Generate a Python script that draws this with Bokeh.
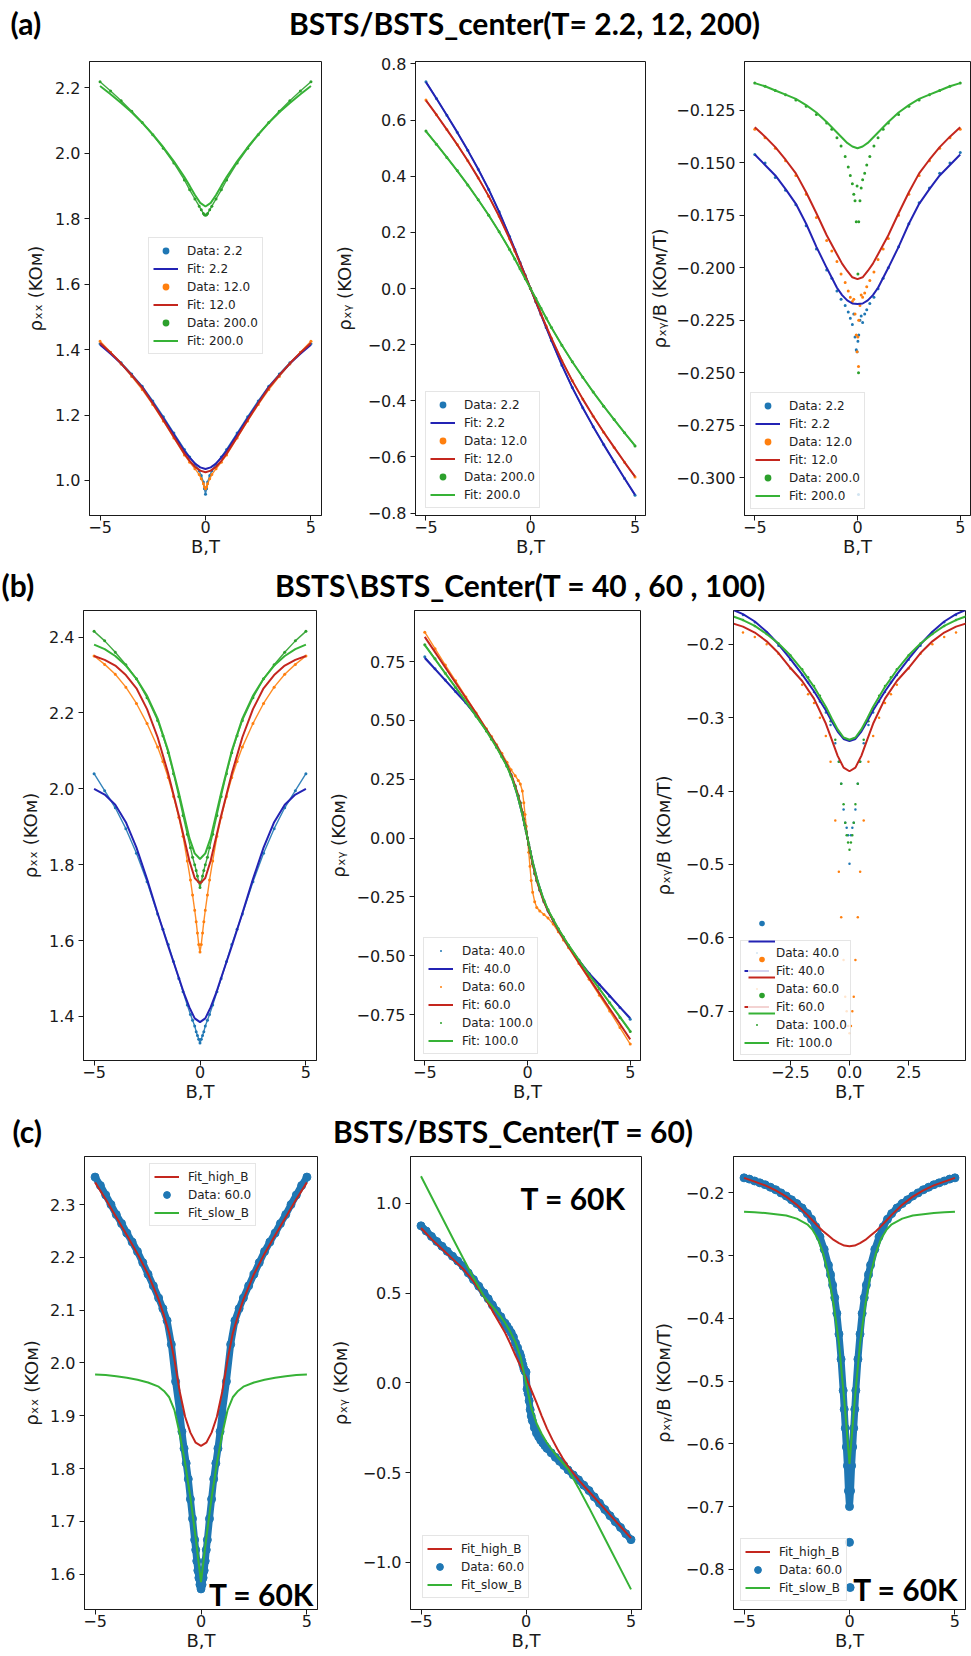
from bokeh.plotting import figure
from bokeh.layouts import column, row
from bokeh.models import FixedTicker, CustomJSTickFormatter, Legend, LegendItem, Range1d
from bokeh.core.properties import value
from bokeh.embed import file_html
from bokeh.resources import INLINE

# ------------------------------------------------------------------ texts
title_a = "BSTS/BSTS_center(T= 2.2, 12, 200)"
title_b = "BSTS\\BSTS_Center(T = 40 , 60 , 100)"
title_c = "BSTS/BSTS_Center(T = 60)"
panel_tags = ["(a)", "(b)", "(c)"]
x_label = "B,T"
label_rxx = "ρₓₓ (KOм)"
label_rxy = "ρₓᵧ (KOм)"
label_rxyB = "ρₓᵧ/B (KOм/T)"
annot_text = "T = 60K"
legend_a = ["Data: 2.2", "Fit: 2.2", "Data: 12.0", "Fit: 12.0", "Data: 200.0", "Fit: 200.0"]
legend_b = ["Data: 40.0", "Fit: 40.0", "Data: 60.0", "Fit: 60.0", "Data: 100.0", "Fit: 100.0"]
legend_c = ["Fit_high_B", "Data: 60.0", "Fit_slow_B"]

# ------------------------------------------------------------------ ticks
x_ticks = [-5, 0, 5]
x_ticks_b3 = [-2.5, 0.0, 2.5]
a1_yticks = [1.0, 1.2, 1.4, 1.6, 1.8, 2.0, 2.2]
a2_yticks = [-0.8, -0.6, -0.4, -0.2, 0.0, 0.2, 0.4, 0.6, 0.8]
a3_yticks = [-0.300, -0.275, -0.250, -0.225, -0.200, -0.175, -0.150, -0.125]
b1_yticks = [1.4, 1.6, 1.8, 2.0, 2.2, 2.4]
b2_yticks = [-0.75, -0.50, -0.25, 0.0, 0.25, 0.50, 0.75]
b3_yticks = [-0.7, -0.6, -0.5, -0.4, -0.3, -0.2]
c1_yticks = [1.6, 1.7, 1.8, 1.9, 2.0, 2.1, 2.2, 2.3]
c2_yticks = [-1.0, -0.5, 0.0, 0.5, 1.0]
c3_yticks = [-0.8, -0.7, -0.6, -0.5, -0.4, -0.3, -0.2]

# ------------------------------------------------------------------ field grids
B_fit = [-5, -4.5, -4, -3.5, -3, -2.5, -2, -1.5, -1, -0.75, -0.5, -0.25, 0,
         0.25, 0.5, 0.75, 1, 1.5, 2, 2.5, 3, 3.5, 4, 4.5, 5]
B_data_a = [-5, -4.5, -4, -3.5, -3, -2.5, -2, -1.5, -1, -0.75, -0.5, -0.3, -0.2, -0.1, -0.05, 0,
            0.05, 0.1, 0.2, 0.3, 0.5, 0.75, 1, 1.5, 2, 2.5, 3, 3.5, 4, 4.5, 5]
B_a3 = [-5, -4.5, -4, -3.5, -3, -2.5, -2, -1.5, -1.25, -1, -0.8, -0.6, -0.45, -0.35, -0.25, -0.18, -0.12, -0.06, -0.02,
        0.02, 0.06, 0.12, 0.18, 0.25, 0.35, 0.45, 0.6, 0.8, 1, 1.25, 1.5, 2, 2.5, 3, 3.5, 4, 4.5, 5]
B_a3_extra = [0.05]
B_data_b = [-5, -4.5, -4, -3.5, -3, -2.5, -2, -1.75, -1.5, -1.25, -1, -0.8, -0.6, -0.45, -0.35, -0.25, -0.18, -0.12, -0.06, 0,
            0.06, 0.12, 0.18, 0.25, 0.35, 0.45, 0.6, 0.8, 1, 1.25, 1.5, 1.75, 2, 2.5, 3, 3.5, 4, 4.5, 5]
B_fit_c = [-5, -4.5, -4, -3.5, -3, -2.5, -2, -1.75, -1.5, -1.25, -1, -0.75, -0.5, -0.25, 0,
           0.25, 0.5, 0.75, 1, 1.25, 1.5, 1.75, 2, 2.5, 3, 3.5, 4, 4.5, 5]
B_c = [-5, -4.75, -4.5, -4.25, -4, -3.75, -3.5, -3.25, -3, -2.75, -2.5, -2.25, -2, -1.8, -1.6, -1.4, -1.2, -1,
       -0.9, -0.8, -0.7, -0.6, -0.5, -0.4, -0.3, -0.25, -0.2, -0.15, -0.1, -0.05, 0,
       0.05, 0.1, 0.15, 0.2, 0.25, 0.3, 0.4, 0.5, 0.6, 0.7, 0.8, 0.9,
       1, 1.2, 1.4, 1.6, 1.8, 2, 2.25, 2.5, 2.75, 3, 3.25, 3.5, 3.75, 4, 4.25, 4.5, 4.75, 5]
B_c3_extra = [0.0, 0.03]

# ------------------------------------------------------------------ row (a): rho_xx
fit_a1_2p2 = [1.415, 1.387, 1.357, 1.322, 1.285, 1.238, 1.19, 1.14, 1.09, 1.07, 1.052, 1.04, 1.035,
              1.04, 1.052, 1.07, 1.09, 1.14, 1.19, 1.238, 1.285, 1.322, 1.357, 1.387, 1.415]
fit_a1_12 = [1.42, 1.39, 1.358, 1.322, 1.283, 1.235, 1.185, 1.133, 1.082, 1.06, 1.042, 1.03, 1.025,
             1.03, 1.042, 1.06, 1.082, 1.133, 1.185, 1.235, 1.283, 1.322, 1.358, 1.39, 1.42]
fit_a1_200 = [2.205, 2.18, 2.153, 2.125, 2.093, 2.057, 2.018, 1.975, 1.927, 1.9, 1.872, 1.848, 1.837,
              1.848, 1.872, 1.9, 1.927, 1.975, 2.018, 2.057, 2.093, 2.125, 2.153, 2.18, 2.205]
rho_a1_2p2 = [1.418, 1.39, 1.36, 1.325, 1.288, 1.243, 1.195, 1.145, 1.095, 1.072, 1.05, 1.03, 1.015, 0.995, 0.975, 0.958,
              0.975, 0.995, 1.015, 1.03, 1.05, 1.072, 1.095, 1.145, 1.195, 1.243, 1.288, 1.325, 1.36, 1.39, 1.418]
rho_a1_12 = [1.425, 1.392, 1.356, 1.318, 1.278, 1.232, 1.182, 1.13, 1.078, 1.056, 1.036, 1.018, 1.005, 0.99, 0.98, 0.975,
             0.98, 0.99, 1.005, 1.018, 1.036, 1.056, 1.078, 1.13, 1.182, 1.232, 1.278, 1.318, 1.356, 1.392, 1.425]
rho_a1_200 = [2.218, 2.19, 2.16, 2.128, 2.094, 2.056, 2.015, 1.97, 1.918, 1.888, 1.86, 1.838, 1.827, 1.816, 1.812, 1.81,
              1.812, 1.816, 1.827, 1.838, 1.86, 1.888, 1.918, 1.97, 2.015, 2.056, 2.094, 2.128, 2.16, 2.19, 2.218]

# row (a): rho_xy
fit_a2_2p2 = [0.735, 0.677, 0.617, 0.556, 0.492, 0.425, 0.353, 0.273, 0.185, 0.139, 0.093, 0.047, 0.0,
              -0.047, -0.093, -0.139, -0.185, -0.273, -0.353, -0.425, -0.492, -0.556, -0.617, -0.677, -0.735]
fit_a2_12 = [0.67, 0.619, 0.566, 0.512, 0.455, 0.394, 0.329, 0.257, 0.177, 0.134, 0.09, 0.045, 0.0,
             -0.045, -0.09, -0.134, -0.177, -0.257, -0.329, -0.394, -0.455, -0.512, -0.566, -0.619, -0.67]
fit_a2_200 = [0.56, 0.514, 0.467, 0.419, 0.369, 0.316, 0.261, 0.202, 0.139, 0.105, 0.07, 0.035, 0.0,
              -0.035, -0.07, -0.105, -0.139, -0.202, -0.261, -0.316, -0.369, -0.419, -0.467, -0.514, -0.56]
rho_a2_2p2 = [0.736, 0.677, 0.617, 0.556, 0.492, 0.425, 0.353, 0.273, 0.185, 0.139, 0.093, 0.047, 0.0,
              -0.047, -0.093, -0.139, -0.185, -0.273, -0.353, -0.425, -0.492, -0.556, -0.617, -0.677, -0.736]
rho_a2_12 = [0.671, 0.619, 0.566, 0.512, 0.455, 0.394, 0.329, 0.257, 0.177, 0.134, 0.09, 0.045, 0.0,
             -0.045, -0.09, -0.134, -0.177, -0.257, -0.329, -0.394, -0.455, -0.512, -0.566, -0.619, -0.671]
rho_a2_200 = [0.561, 0.514, 0.467, 0.419, 0.369, 0.316, 0.261, 0.202, 0.139, 0.105, 0.07, 0.035, 0.0,
              -0.035, -0.07, -0.105, -0.139, -0.202, -0.261, -0.316, -0.369, -0.419, -0.467, -0.514, -0.561]

# row (a): rho_xy / B
fit_a3_2p2 = [-0.146, -0.151, -0.156, -0.1625, -0.1695, -0.179, -0.19, -0.2, -0.2095, -0.213, -0.2155, -0.217, -0.2172,
              -0.217, -0.2155, -0.213, -0.2095, -0.2, -0.19, -0.179, -0.1695, -0.1625, -0.156, -0.151, -0.146]
fit_a3_12 = [-0.133, -0.1375, -0.1425, -0.1485, -0.155, -0.164, -0.174, -0.1845, -0.1935, -0.198, -0.2015, -0.2045, -0.2054,
             -0.2045, -0.2015, -0.198, -0.1935, -0.1845, -0.174, -0.164, -0.155, -0.1485, -0.1425, -0.1375, -0.133]
fit_a3_200 = [-0.112, -0.1135, -0.1155, -0.1175, -0.1195, -0.1225, -0.126, -0.1305, -0.1355, -0.138, -0.1405, -0.1422, -0.143,
              -0.1422, -0.1405, -0.138, -0.1355, -0.1305, -0.126, -0.1225, -0.1195, -0.1175, -0.1155, -0.1135, -0.112]
rho_a3_2p2 = [-0.146, -0.150, -0.157, -0.163, -0.170, -0.180, -0.191, -0.201, -0.205, -0.211, -0.215, -0.218, -0.221,
              -0.224, -0.227, -0.222, -0.233, -0.239, -0.240,
              -0.235, -0.232, -0.225, -0.223, -0.226, -0.222, -0.220, -0.217, -0.214, -0.210, -0.205, -0.200,
              -0.190, -0.179, -0.169, -0.162, -0.155, -0.150, -0.145]
rho_a3_12 = [-0.134, -0.138, -0.143, -0.149, -0.156, -0.165, -0.176, -0.187, -0.192, -0.197, -0.203, -0.207, -0.211,
             -0.214, -0.216, -0.215, -0.222, -0.232, -0.240,
             -0.233, -0.225, -0.218, -0.213, -0.214, -0.212, -0.209, -0.206, -0.202, -0.196, -0.191, -0.186,
             -0.175, -0.165, -0.156, -0.149, -0.143, -0.138, -0.134]
rho_a3_200 = [-0.112, -0.1135, -0.1155, -0.1175, -0.120, -0.123, -0.127, -0.131, -0.134, -0.138, -0.142, -0.147, -0.152,
              -0.156, -0.160, -0.165, -0.168, -0.178, -0.161,
              -0.203, -0.178, -0.168, -0.162, -0.158, -0.155, -0.151, -0.147, -0.142, -0.138, -0.134, -0.131,
              -0.127, -0.123, -0.120, -0.1175, -0.1155, -0.1135, -0.112]
rho_a3_extra_2p2 = [-0.308]
rho_a3_extra_12 = [-0.247]
rho_a3_extra_200 = [-0.250]

# ------------------------------------------------------------------ row (b): rho_xx
fit_b1_40 = [2.0, 1.985, 1.958, 1.912, 1.845, 1.762, 1.672, 1.585, 1.502, 1.46, 1.424, 1.395, 1.385,
             1.395, 1.424, 1.46, 1.502, 1.585, 1.672, 1.762, 1.845, 1.912, 1.958, 1.985, 2.0]
fit_b1_60 = [2.35, 2.34, 2.325, 2.30, 2.265, 2.21, 2.136, 2.04, 1.93, 1.87, 1.81, 1.765, 1.75,
             1.765, 1.81, 1.87, 1.93, 2.04, 2.136, 2.21, 2.265, 2.30, 2.325, 2.34, 2.35]
fit_b1_100 = [2.38, 2.368, 2.35, 2.325, 2.29, 2.245, 2.185, 2.10, 1.99, 1.93, 1.87, 1.83, 1.815,
              1.83, 1.87, 1.93, 1.99, 2.10, 2.185, 2.245, 2.29, 2.325, 2.35, 2.368, 2.38]
rho_b1_40 = [2.04, 1.995, 1.95, 1.895, 1.83, 1.755, 1.67, 1.63, 1.59, 1.545, 1.50, 1.465, 1.43, 1.405, 1.39, 1.375,
             1.36, 1.35, 1.34, 1.33,
             1.34, 1.35, 1.36, 1.375, 1.39, 1.405, 1.43, 1.465, 1.50, 1.545, 1.59, 1.63, 1.67, 1.755, 1.83,
             1.895, 1.95, 1.995, 2.04]
rho_b1_60 = [2.35, 2.328, 2.302, 2.268, 2.225, 2.172, 2.11, 2.072, 2.03, 1.98, 1.925, 1.875, 1.81, 1.76, 1.72, 1.68,
             1.65, 1.62, 1.59, 1.57,
             1.59, 1.62, 1.65, 1.68, 1.72, 1.76, 1.81, 1.875, 1.925, 1.98, 2.03, 2.072, 2.11, 2.172, 2.225,
             2.268, 2.302, 2.328, 2.35]
rho_b1_100 = [2.415, 2.39, 2.36, 2.327, 2.29, 2.24, 2.18, 2.14, 2.095, 2.04, 1.98, 1.93, 1.88, 1.845, 1.82, 1.80,
              1.785, 1.77, 1.755, 1.74,
              1.755, 1.77, 1.785, 1.80, 1.82, 1.845, 1.88, 1.93, 1.98, 2.04, 2.095, 2.14, 2.18, 2.24, 2.29,
              2.327, 2.36, 2.39, 2.415]

# row (b): rho_xy
fit_b2_40 = [0.765, 0.718, 0.67, 0.622, 0.575, 0.52, 0.46, 0.39, 0.31, 0.255, 0.185, 0.1, 0.0,
             -0.1, -0.185, -0.255, -0.31, -0.39, -0.46, -0.52, -0.575, -0.622, -0.67, -0.718, -0.765]
fit_b2_60 = [0.855, 0.79, 0.725, 0.66, 0.595, 0.53, 0.46, 0.39, 0.31, 0.26, 0.195, 0.11, 0.0,
             -0.11, -0.195, -0.26, -0.31, -0.39, -0.46, -0.53, -0.595, -0.66, -0.725, -0.79, -0.855]
fit_b2_100 = [0.82, 0.76, 0.70, 0.64, 0.58, 0.518, 0.455, 0.385, 0.305, 0.252, 0.185, 0.1, 0.0,
              -0.1, -0.185, -0.252, -0.305, -0.385, -0.455, -0.518, -0.58, -0.64, -0.70, -0.76, -0.82]
rho_b2_40 = [0.77, 0.72, 0.672, 0.623, 0.575, 0.52, 0.46, 0.425, 0.39, 0.352, 0.31, 0.27, 0.222, 0.18, 0.15, 0.11,
             0.08, 0.055, 0.028, 0.0,
             -0.028, -0.055, -0.08, -0.11, -0.15, -0.18, -0.222, -0.27, -0.31, -0.352, -0.39, -0.425, -0.46,
             -0.52, -0.575, -0.623, -0.672, -0.72, -0.77]
rho_b2_60 = [0.875, 0.805, 0.735, 0.668, 0.60, 0.532, 0.465, 0.432, 0.397, 0.36, 0.322, 0.29, 0.265, 0.245, 0.23,
             0.20, 0.15, 0.10, 0.05, 0.0,
             -0.06, -0.12, -0.18, -0.23, -0.27, -0.295, -0.31, -0.325, -0.34, -0.365, -0.398, -0.433, -0.466,
             -0.533, -0.60, -0.668, -0.735, -0.805, -0.875]
rho_b2_100 = [0.822, 0.762, 0.70, 0.64, 0.58, 0.518, 0.455, 0.42, 0.385, 0.346, 0.305, 0.265, 0.22, 0.18, 0.15,
              0.11, 0.08, 0.055, 0.028, 0.0,
              -0.028, -0.055, -0.08, -0.11, -0.15, -0.18, -0.22, -0.265, -0.305, -0.346, -0.385, -0.42, -0.455,
              -0.518, -0.58, -0.64, -0.70, -0.762, -0.822]

# row (b): rho_xy / B
fit_b3_40 = [-0.152, -0.159, -0.169, -0.183, -0.2, -0.22, -0.241, -0.264, -0.29, -0.305, -0.319, -0.329, -0.332,
             -0.329, -0.319, -0.305, -0.29, -0.264, -0.241, -0.22, -0.2, -0.183, -0.169, -0.159, -0.152]
fit_b3_60 = [-0.171, -0.176, -0.184, -0.196, -0.212, -0.232, -0.25, -0.274, -0.308, -0.33, -0.352, -0.368, -0.373,
             -0.368, -0.352, -0.33, -0.308, -0.274, -0.25, -0.232, -0.212, -0.196, -0.184, -0.176, -0.171]
fit_b3_100 = [-0.161, -0.167, -0.175, -0.186, -0.199, -0.215, -0.235, -0.258, -0.285, -0.301, -0.316, -0.327, -0.33,
              -0.327, -0.316, -0.301, -0.285, -0.258, -0.235, -0.215, -0.199, -0.186, -0.175, -0.167, -0.161]
rho_b3_40 = [-0.152, -0.16, -0.17, -0.184, -0.202, -0.221, -0.242, -0.252, -0.265, -0.278, -0.293, -0.31, -0.335,
             -0.36, -0.39, -0.425, -0.443, -0.45, -0.46, -0.499,
             -0.46, -0.45, -0.443, -0.425, -0.39, -0.36, -0.335, -0.31, -0.293, -0.278, -0.265, -0.252, -0.242,
             -0.221, -0.202, -0.184, -0.17, -0.16, -0.152]
rho_b3_60 = [-0.178, -0.184, -0.19, -0.2, -0.213, -0.233, -0.255, -0.268, -0.28, -0.3, -0.325, -0.36, -0.44,
             -0.51, -0.572, -0.63, -0.68, -0.70, -0.72, -0.73,
             -0.72, -0.70, -0.68, -0.63, -0.572, -0.51, -0.44, -0.36, -0.325, -0.3, -0.28, -0.268, -0.255,
             -0.233, -0.213, -0.2, -0.19, -0.184, -0.178]
rho_b3_100 = [-0.161, -0.167, -0.175, -0.186, -0.199, -0.215, -0.234, -0.245, -0.257, -0.27, -0.287, -0.305, -0.33,
              -0.36, -0.39, -0.418, -0.443, -0.46, -0.47, -0.48,
              -0.47, -0.46, -0.443, -0.418, -0.39, -0.36, -0.33, -0.305, -0.287, -0.27, -0.257, -0.245, -0.234,
              -0.215, -0.199, -0.186, -0.175, -0.167, -0.161]

# ------------------------------------------------------------------ row (c), T = 60 K
fit_c1_high = [2.342, 2.31, 2.276, 2.242, 2.207, 2.168, 2.12, 2.09, 2.056, 2.005, 1.945, 1.898, 1.868, 1.849, 1.843,
               1.849, 1.868, 1.898, 1.945, 2.005, 2.056, 2.09, 2.12, 2.168, 2.207, 2.242, 2.276, 2.31, 2.342]
fit_c1_slow = [1.978, 1.977, 1.975, 1.972, 1.968, 1.963, 1.955, 1.947, 1.935, 1.91, 1.865, 1.81, 1.745, 1.668, 1.585,
               1.668, 1.745, 1.81, 1.865, 1.91, 1.935, 1.947, 1.955, 1.963, 1.968, 1.972, 1.975, 1.977, 1.978]
rho_c1 = [2.352, 2.336, 2.318, 2.30, 2.281, 2.264, 2.246, 2.229, 2.211, 2.19, 2.168, 2.146, 2.123, 2.103, 2.08,
          2.035, 1.965, 1.905, 1.87, 1.838, 1.81, 1.78, 1.742, 1.705, 1.665, 1.646, 1.625, 1.607, 1.593, 1.58,
          1.572,
          1.58, 1.593, 1.607, 1.625, 1.646, 1.665, 1.705, 1.742, 1.78, 1.81, 1.838, 1.87, 1.905, 1.965, 2.035,
          2.08, 2.103, 2.123, 2.146, 2.168, 2.19, 2.211, 2.229, 2.246, 2.264, 2.281, 2.30, 2.318, 2.336, 2.352]

fit_c2_high = [0.862, 0.80, 0.745, 0.69, 0.635, 0.565, 0.48, 0.432, 0.38, 0.33, 0.28, 0.218, 0.152, 0.09, 0.03,
               -0.04, -0.11, -0.185, -0.255, -0.315, -0.37, -0.42, -0.465, -0.54, -0.605, -0.67, -0.735, -0.80, -0.865]
fit_c2_slow = [1.15, 1.036, 0.922, 0.808, 0.695, 0.585, 0.48, 0.445, 0.412, 0.375, 0.335, 0.285, 0.225, 0.14, 0.0,
               -0.14, -0.225, -0.285, -0.335, -0.375, -0.412, -0.445, -0.48, -0.585, -0.695, -0.808, -0.922, -1.036, -1.15]
rho_c2 = [0.874, 0.845, 0.815, 0.787, 0.76, 0.732, 0.705, 0.678, 0.65, 0.612, 0.575, 0.538, 0.50, 0.468, 0.433,
          0.40, 0.368, 0.332, 0.315, 0.297, 0.278, 0.255, 0.222, 0.195, 0.165, 0.147, 0.123, 0.10, 0.078, 0.065,
          0.06,
          -0.035, -0.06, -0.10, -0.15, -0.185, -0.21, -0.25, -0.28, -0.30, -0.32, -0.335, -0.35, -0.365, -0.39,
          -0.415, -0.437, -0.46, -0.485, -0.513, -0.54, -0.57, -0.60, -0.635, -0.67, -0.705, -0.74, -0.773,
          -0.805, -0.84, -0.873]

fit_c3_high = [-0.176, -0.182, -0.188, -0.196, -0.206, -0.219, -0.235, -0.244, -0.253, -0.261, -0.268, -0.275, -0.28,
               -0.284, -0.285, -0.284, -0.28, -0.275, -0.268, -0.261, -0.253, -0.244, -0.235, -0.219, -0.206,
               -0.196, -0.188, -0.182, -0.176]
fit_c3_slow = [-0.23, -0.231, -0.232, -0.234, -0.236, -0.241, -0.25, -0.259, -0.273, -0.296, -0.33, -0.378, -0.44,
               -0.53, -0.632, -0.53, -0.44, -0.378, -0.33, -0.296, -0.273, -0.259, -0.25, -0.241, -0.236, -0.234,
               -0.232, -0.231, -0.23]
rho_c3 = [-0.176, -0.178, -0.181, -0.184, -0.187, -0.191, -0.195, -0.2, -0.205, -0.211, -0.217, -0.224, -0.233,
          -0.242, -0.254, -0.27, -0.29, -0.315, -0.33, -0.347, -0.367, -0.392, -0.425, -0.465, -0.515, -0.545,
          -0.575, -0.605, -0.635, -0.675,
          -0.70,
          -0.675, -0.635, -0.605, -0.575, -0.545, -0.515, -0.465, -0.425, -0.392, -0.367, -0.347, -0.33, -0.315,
          -0.29, -0.27, -0.254, -0.242, -0.233, -0.224, -0.217, -0.211, -0.205, -0.2, -0.195, -0.191, -0.187,
          -0.184, -0.181, -0.178, -0.176]
rho_c3_extra = [-0.757, -0.829]

# ------------------------------------------------------------------ styles
D_BLUE, D_ORANGE, D_GREEN = "#1f77b4", "#ff7f0e", "#2ca02c"
F_BLUE, F_RED, F_GREEN = "#2323b4", "#c4261e", "#36b236"
FRAME = "#1a1a1a"


def fmt(dec):
    return CustomJSTickFormatter(code="return tick.toFixed(%d).replace('-', '\u2212');" % dec)


def panel(width, height, borders, xr, yr, xticks, yticks, xdec, ydec, ylabel, ystd):
    left, right, top, bottom = borders
    p = figure(width=width, height=height, x_range=Range1d(*xr), y_range=Range1d(*yr),
               output_backend="svg", toolbar_location=None,
               min_border_left=left, min_border_right=right,
               min_border_top=top, min_border_bottom=bottom,
               background_fill_color="white", border_fill_color="white")
    p.xgrid.visible = False
    p.ygrid.visible = False
    p.outline_line_color = FRAME
    p.outline_line_width = 1
    p.outline_line_alpha = 1
    p.xaxis.ticker = FixedTicker(ticks=xticks)
    p.yaxis.ticker = FixedTicker(ticks=yticks)
    p.xaxis.formatter = fmt(xdec)
    p.yaxis.formatter = fmt(ydec)
    p.xaxis.axis_label = x_label
    p.yaxis.axis_label = ylabel
    for ax in p.axis:
        ax.axis_line_color = FRAME
        ax.major_tick_line_color = FRAME
        ax.major_tick_out = 5
        ax.major_tick_in = 0
        ax.minor_tick_out = 0
        ax.minor_tick_in = 0
        ax.major_label_text_font = "DejaVu Sans"
        ax.major_label_text_font_size = "16px"
        ax.major_label_text_color = "#1a1a1a"
        ax.axis_label_text_font = "DejaVu Sans"
        ax.axis_label_text_font_size = "18px"
        ax.axis_label_text_font_style = "normal"
        ax.axis_label_text_color = "#1a1a1a"
    p.xaxis.major_label_standoff = 0
    p.xaxis.axis_label_standoff = 0
    p.yaxis.major_label_standoff = 4
    p.yaxis.axis_label_standoff = ystd
    return p


def add_legend(p, labels, renderers, loc, gh=17, lh=17, sp=1, pad=4, standoff=9, gw=25,
               border="#cccccc", bg_alpha=0.8, label_width=20):
    items = [LegendItem(label=l, renderers=[r]) for l, r in zip(labels, renderers)]
    lg = Legend(items=items, location=loc, orientation="vertical", margin=0,
                glyph_width=gw, glyph_height=gh, label_height=lh, label_width=label_width,
                spacing=sp, padding=pad, label_standoff=standoff,
                label_text_font="DejaVu Sans", label_text_font_size="12px", label_text_color="#222222",
                border_line_color=border, border_line_width=1,
                background_fill_color="white", background_fill_alpha=bg_alpha)
    p.add_layout(lg)
    return lg


def title_fig(h, tag, tag_x, title, title_x, yc):
    p = figure(width=971, height=h, x_range=Range1d(0, 971), y_range=Range1d(h, 0),
               output_backend="svg", toolbar_location=None, x_axis_type=None, y_axis_type=None,
               min_border_left=0, min_border_right=0, min_border_top=0, min_border_bottom=0,
               background_fill_color="white", border_fill_color="white")
    p.grid.visible = False
    p.outline_line_color = None
    p.text(x=[tag_x], y=[yc], text=[tag], text_font=value("Lato"), text_font_style="bold",
           text_font_size="30px", text_align="left", text_baseline="middle", text_color="black")
    p.text(x=[title_x], y=[yc], text=[title], text_font=value("Lato"), text_font_style="bold",
           text_font_size="30px", text_align="center", text_baseline="middle", text_color="black")
    return p


def data_curve(p, x, y, color):
    p.line(x, y, line_color=color, line_width=1.4, line_alpha=0.9)
    return p.scatter(x, y, size=3, fill_color=color, line_color=None)


XR = (-5.5, 5.5)

# ---------------------------------------------------------------- row (a)
a1 = panel(330, 512, (89, 9, 11, 47), XR, (0.893, 2.28), x_ticks, a1_yticks, 0, 1, label_rxx, 6)
d1 = data_curve(a1, B_data_a, rho_a1_2p2, D_BLUE)
d2 = data_curve(a1, B_data_a, rho_a1_12, D_ORANGE)
d3 = data_curve(a1, B_data_a, rho_a1_200, D_GREEN)
f1 = a1.line(B_fit, fit_a1_2p2, line_color=F_BLUE, line_width=2)
f2 = a1.line(B_fit, fit_a1_12, line_color=F_RED, line_width=2)
f3 = a1.line(B_fit, fit_a1_200, line_color=F_GREEN, line_width=2)
add_legend(a1, legend_a, [d1, f1, d2, f2, d3, f3], (59, 161))

a2 = panel(316, 512, (84, 1, 11, 47), XR, (-0.8085, 0.8085), x_ticks, a2_yticks, 0, 1, label_rxy, 10)
d1 = data_curve(a2, B_fit, rho_a2_2p2, D_BLUE)
d2 = data_curve(a2, B_fit, rho_a2_12, D_ORANGE)
d3 = data_curve(a2, B_fit, rho_a2_200, D_GREEN)
f1 = a2.line(B_fit, fit_a2_2p2, line_color=F_BLUE, line_width=2)
f2 = a2.line(B_fit, fit_a2_12, line_color=F_RED, line_width=2)
f3 = a2.line(B_fit, fit_a2_200, line_color=F_GREEN, line_width=2)
add_legend(a2, legend_a, [d1, f1, d2, f2, d3, f3], (10, 7))

a3 = panel(325, 512, (92, 1, 11, 47), XR, (-0.318, -0.1017), x_ticks, a3_yticks, 0, 3, label_rxyB, 3)
d1 = a3.scatter(B_a3, rho_a3_2p2, size=3, fill_color=D_BLUE, line_color=None)
d2 = a3.scatter(B_a3, rho_a3_12, size=3, fill_color=D_ORANGE, line_color=None)
d3 = a3.scatter(B_a3, rho_a3_200, size=3, fill_color=D_GREEN, line_color=None)
a3.scatter(B_a3_extra, rho_a3_extra_2p2, size=3, fill_color=D_BLUE, line_color=None)
a3.scatter(B_a3_extra, rho_a3_extra_12, size=3, fill_color=D_ORANGE, line_color=None)
a3.scatter(B_a3_extra, rho_a3_extra_200, size=3, fill_color=D_GREEN, line_color=None)
f1 = a3.line(B_fit, fit_a3_2p2, line_color=F_BLUE, line_width=2)
f2 = a3.line(B_fit, fit_a3_12, line_color=F_RED, line_width=2)
f3 = a3.line(B_fit, fit_a3_200, line_color=F_GREEN, line_width=2)
add_legend(a3, legend_a, [d1, f1, d2, f2, d3, f3], (6, 6))

# ---------------------------------------------------------------- row (b)
b1 = panel(325, 507, (83, 9, 7, 50), XR, (1.284, 2.47), x_ticks, b1_yticks, 0, 1, label_rxx, 5)
data_curve(b1, B_data_b, rho_b1_40, D_BLUE)
data_curve(b1, B_data_b, rho_b1_60, D_ORANGE)
data_curve(b1, B_data_b, rho_b1_100, D_GREEN)
b1.line(B_fit, fit_b1_40, line_color=F_BLUE, line_width=2)
b1.line(B_fit, fit_b1_60, line_color=F_RED, line_width=2)
b1.line(B_fit, fit_b1_100, line_color=F_GREEN, line_width=2)

b2 = panel(320, 507, (83, 5, 7, 50), XR, (-0.945, 0.967), x_ticks, b2_yticks, 0, 2, label_rxy, 4)
d1 = data_curve(b2, B_data_b, rho_b2_40, D_BLUE)
d2 = data_curve(b2, B_data_b, rho_b2_60, D_ORANGE)
d3 = data_curve(b2, B_data_b, rho_b2_100, D_GREEN)
f1 = b2.line(B_fit, fit_b2_40, line_color=F_BLUE, line_width=2)
f2 = b2.line(B_fit, fit_b2_60, line_color=F_RED, line_width=2)
f3 = b2.line(B_fit, fit_b2_100, line_color=F_GREEN, line_width=2)
add_legend(b2, legend_b, [d1, f1, d2, f2, d3, f3], (9, 6), gh=5)

b3 = panel(326, 507, (88, 6, 7, 50), (-4.9, 4.9), (-0.767, -0.154), x_ticks_b3, b3_yticks, 1, 1, label_rxyB, 9)
d1 = b3.scatter(B_data_b, rho_b3_40, size=2.5, fill_color=D_BLUE, line_color=None)
d2 = b3.scatter(B_data_b, rho_b3_60, size=2.5, fill_color=D_ORANGE, line_color=None)
d3 = b3.scatter(B_data_b, rho_b3_100, size=2.5, fill_color=D_GREEN, line_color=None)
f1 = b3.line(B_fit, fit_b3_40, line_color=F_BLUE, line_width=2)
f2 = b3.line(B_fit, fit_b3_60, line_color=F_RED, line_width=2)
f3 = b3.line(B_fit, fit_b3_100, line_color=F_GREEN, line_width=2)
add_legend(b3, legend_b, [d1, f1, d2, f2, d3, f3], (7, 5), gh=5, pad=3, standoff=7)
add_legend(b3, [" "] * 6, [d1, f1, d2, f2, d3, f3], (15, 40), gh=14, lh=14, sp=4, pad=2,
           standoff=0, gw=27, border=None, label_width=0)

# ---------------------------------------------------------------- row (c)
c1 = panel(326, 508, (84, 9, 8, 47), XR, (1.533, 2.391), x_ticks, c1_yticks, 0, 1, label_rxx, 5)
c1.line(B_c, rho_c1, line_color=D_BLUE, line_width=7)
dc = c1.scatter(B_c, rho_c1, size=8, fill_color=D_BLUE, line_color=D_BLUE)
fh = c1.line(B_fit_c, fit_c1_high, line_color=F_RED, line_width=2)
fs = c1.line(B_fit_c, fit_c1_slow, line_color=F_GREEN, line_width=2)
add_legend(c1, legend_c, [fh, dc, fs], (65, 383))
c1.text(x=[5.35], y=[1.5633], text=[annot_text], text_font=value("Lato"), text_font_style="bold",
        text_font_size="30px", text_align="right", text_baseline="alphabetic", text_color="black")

c2 = panel(320, 508, (83, 5, 8, 47), XR, (-1.262, 1.26), x_ticks, c2_yticks, 0, 1, label_rxy, 9)
c2.line(B_c, rho_c2, line_color=D_BLUE, line_width=7)
dc = c2.scatter(B_c, rho_c2, size=8, fill_color=D_BLUE, line_color=D_BLUE)
fh = c2.line(B_fit_c, fit_c2_high, line_color=F_RED, line_width=2)
fs = c2.line(B_fit_c, fit_c2_slow, line_color=F_GREEN, line_width=2)
add_legend(c2, legend_c, [fh, dc, fs], (12, 11))
c2.text(x=[4.76], y=[1.028], text=[annot_text], text_font=value("Lato"), text_font_style="bold",
        text_font_size="30px", text_align="right", text_baseline="alphabetic", text_color="black")

c3 = panel(325, 508, (87, 6, 8, 47), XR, (-0.864, -0.142), x_ticks, c3_yticks, 0, 1, label_rxyB, 9)
c3.line(B_c, rho_c3, line_color=D_BLUE, line_width=7)
dc = c3.scatter(B_c, rho_c3, size=8, fill_color=D_BLUE, line_color=D_BLUE)
c3.scatter(B_c3_extra, rho_c3_extra, size=8, fill_color=D_BLUE, line_color=D_BLUE)
fh = c3.line(B_fit_c, fit_c3_high, line_color=F_RED, line_width=2)
fs = c3.line(B_fit_c, fit_c3_slow, line_color=F_GREEN, line_width=2)
add_legend(c3, legend_c, [fh, dc, fs], (7, 8))
c3.text(x=[5.17], y=[-0.832], text=[annot_text], text_font=value("Lato"), text_font_style="bold",
        text_font_size="30px", text_align="right", text_baseline="alphabetic", text_color="black")

# ---------------------------------------------------------------- titles & layout
ta = title_fig(50, panel_tags[0], 10, title_a, 524, 22)
tb = title_fig(41, panel_tags[1], 1, title_b, 520, 22)
tc = title_fig(38, panel_tags[2], 12, title_c, 513, 20)

layout = column(ta, row(a1, a2, a3), tb, row(b1, b2, b3), tc, row(c1, c2, c3))
open("out.html", "w").write(file_html(layout, INLINE))
